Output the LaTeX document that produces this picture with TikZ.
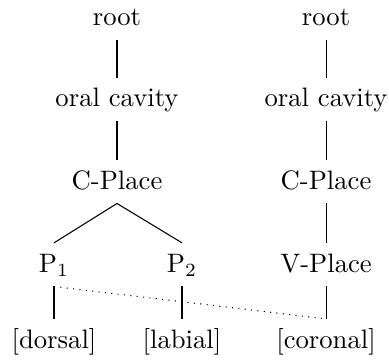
\documentclass[tikz,border=0pt]{standalone}
\usepackage{tikz}
\usetikzlibrary{arrows,shapes}

\begin{document}
\begin{tikzpicture}

  \tikzstyle{feat}=[anchor=base,text height=7.4pt,text depth=1.9pt]
  \tikzstyle{link}=[draw=black,line width=0.4pt]
  \tikzstyle{spread}=[draw=black,dotted]

  \useasboundingbox (0,0) rectangle (5.127,-4.771);

  %% left tree
  \node  (root1)  at (1.542,-0.330)  [feat]  {root};
  \node  (oral1)  at (1.542,-1.410)  [feat]  {oral cavity};
  \node  (cpl1)   at (1.542,-2.491)  [feat]  {C-Place};
  \node  (p1)     at (0.712,-3.585)  [feat]  {P$_1$};
  \node  (p2)     at (2.399,-3.585)  [feat]  {P$_2$};
  \node  (dors)   at (0.712,-4.587)  [feat]  {[dorsal]};
  \node  (lab)    at (2.399,-4.587)  [feat]  {[labial]};

  %% right tree
  \node  (root2)  at (4.297,-0.330)  [feat]  {root};
  \node  (oral2)  at (4.297,-1.410)  [feat]  {oral cavity};
  \node  (cpl2)   at (4.297,-2.491)  [feat]  {C-Place};
  \node  (vpl)    at (4.297,-3.585)  [feat]  {V-Place};
  \node  (cor)    at (4.297,-4.587)  [feat]  {[coronal]};

  \path (root1.south) edge [link] (oral1.north)
        (oral1.south) edge [link] (cpl1.north)
        (cpl1.south)  edge [link] (p1.north)
                      edge [link] (p2.north)
        (p1.south)    edge [link] (dors.north)
                      edge [spread] (cor.north)
        (p2.south)    edge [link] (lab.north)

        (root2.south) edge [link] (oral2.north)
        (oral2.south) edge [link] (cpl2.north)
        (cpl2.south)  edge [link] (vpl.north)
        (vpl.south)   edge [link] (cor.north);
\end{tikzpicture}
\end{document}
